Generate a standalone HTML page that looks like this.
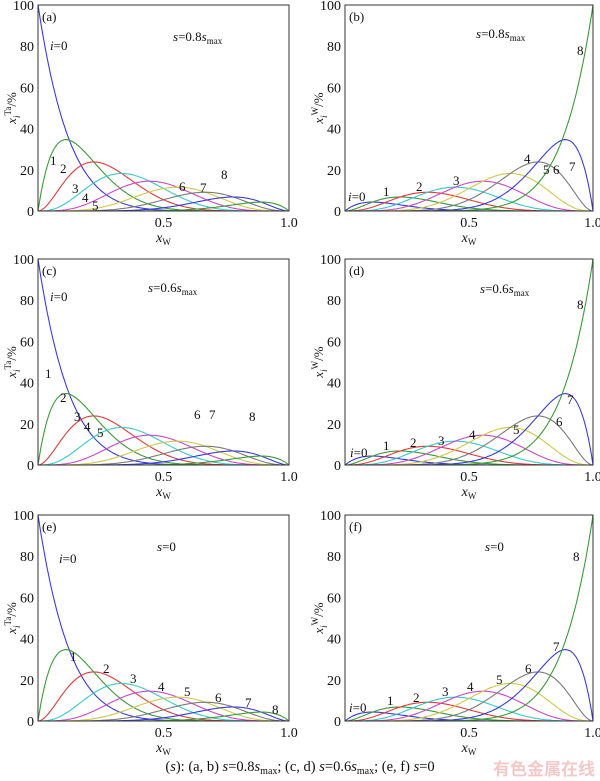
<!DOCTYPE html><html><head><meta charset="utf-8"><style>body{margin:0;background:#fff}svg{display:block;font-family:"Liberation Serif",serif;font-size:13px}text{fill:#111}</style></head><body>
<svg id="s" width="600" height="781" xmlns="http://www.w3.org/2000/svg"></svg>
<script>
const S=document.getElementById('s');let h='';
const cols=['#3a3ad8','#3a9a3a','#e03a3a','#3ac8c8','#c84ac8','#cfc84a','#7a7a7a','#3a3ad8','#3a9a3a'];
function C(n,k){let r=1;for(let i=1;i<=k;i++)r=r*(n-k+i)/i;return r}
function panel(x0,yt,tag,right,lab,sl,sx,sy,sub){
 const W=right?248:251,H=206,yb=yt+H;
 for(let i=0;i<=8;i++){let d='';for(let j=0;j<=160;j++){const x=j/160;let v=C(8,i)*Math.pow(x,i)*Math.pow(1-x,8-i)*100;
  if(!right){v*= (i==0)?1:(1-x);} else {v*=(i==8)?1:x;}
  d+=(j?'L':'M')+(x0+x*W).toFixed(1)+','+(yb-v/100*H).toFixed(1)}
 h+=`<path d="${d}" fill="none" stroke="${cols[i]}" stroke-width="1.1"/>`}
 h+=`<rect x="${x0}" y="${yt}" width="${W}" height="${H}" fill="none" stroke="#333" stroke-width="1"/>`;
 for(let k=0;k<=5;k++){const y=yb-k*H/5;h+=`<text x="${x0-4}" y="${y+5}" text-anchor="end" font-size="14">${k?k*20:0}</text>`}
 h+=`<text x="${x0+W/2}" y="${yb+16}" text-anchor="middle" font-size="14">0.5</text><text x="${x0+W}" y="${yb+16}" text-anchor="middle" font-size="14">1.0</text>`;
 h+=`<text x="${x0+W/2}" y="${yb+31}" text-anchor="middle" font-style="italic" font-size="14">x<tspan font-size="9" dy="3" font-style="normal">W</tspan></text>`;
 h+=`<text transform="translate(${x0-22},${yt+H/2}) rotate(-90)" text-anchor="middle" font-style="italic">x<tspan font-size="9" dy="4">i</tspan><tspan font-size="9" dy="-9" font-style="normal">${right?'W':'Ta'}</tspan><tspan dy="5" font-style="normal">/%</tspan></text>`;
 h+=`<text x="${x0+4}" y="${yt+16}">(${tag})</text>`;
 h+=`<text x="${x0+sx}" y="${yt+sy+4}"><tspan font-style="italic">s</tspan>=${sl}${sub?'<tspan font-style="italic">s</tspan><tspan font-size="9" dy="3">max</tspan>':''}</text>`;
 lab.forEach((p,i)=>{h+=`<text x="${x0+p[0]}" y="${yt+p[1]+5}">${i==0?'<tspan font-style="italic">i</tspan>=0':i}</text>`});
}
panel(38,5,'a',0,[[12,40],[12,155],[22,163],[34,183],[44,192],[54,200],[141,181],[162,182],[183,169]],'0.8',135,32,1);
panel(345,5,'b',1,[[3,191],[38,186],[71,181],[108,175],[179,153],[198,164],[208,164],[224,161],[232,45]],'0.8',131,29,1);
panel(38,259,'c',0,[[12,37],[7,114],[22,138],[36,157],[46,167],[59,173],[156,155],[171,155],[211,157]],'0.6',110,29,1);
panel(345,259,'d',1,[[5,193],[38,186],[65,183],[93,181],[124,175],[168,170],[211,162],[222,140],[232,45]],'0.6',135,30,1);
panel(38,515,'e',0,[[21,43],[32,141],[65,153],[92,163],[120,171],[146,176],[177,182],[207,187],[234,194]],'0',119,32,0);
panel(345,515,'f',1,[[4,192],[42,185],[68,182],[97,176],[122,171],[151,164],[180,153],[208,131],[228,41]],'0',140,32,0);
h+=`<text x="300" y="771" text-anchor="middle" font-size="14.5">(<tspan font-style="italic">s</tspan>): (a, b) <tspan font-style="italic">s</tspan>=0.8<tspan font-style="italic">s</tspan><tspan font-size="10" dy="3">max</tspan><tspan dy="-3">; (c, d) </tspan><tspan font-style="italic">s</tspan>=0.6<tspan font-style="italic">s</tspan><tspan font-size="10" dy="3">max</tspan><tspan dy="-3">; (e, f) </tspan><tspan font-style="italic">s</tspan>=0</text>`;
h+=`<text x="595" y="775" text-anchor="end" style="font-family:'Noto Sans CJK SC',sans-serif;font-size:17px;fill:#f4c8c8;font-weight:bold">有色金属在线</text>`;
S.innerHTML=h;
</script></body></html>
